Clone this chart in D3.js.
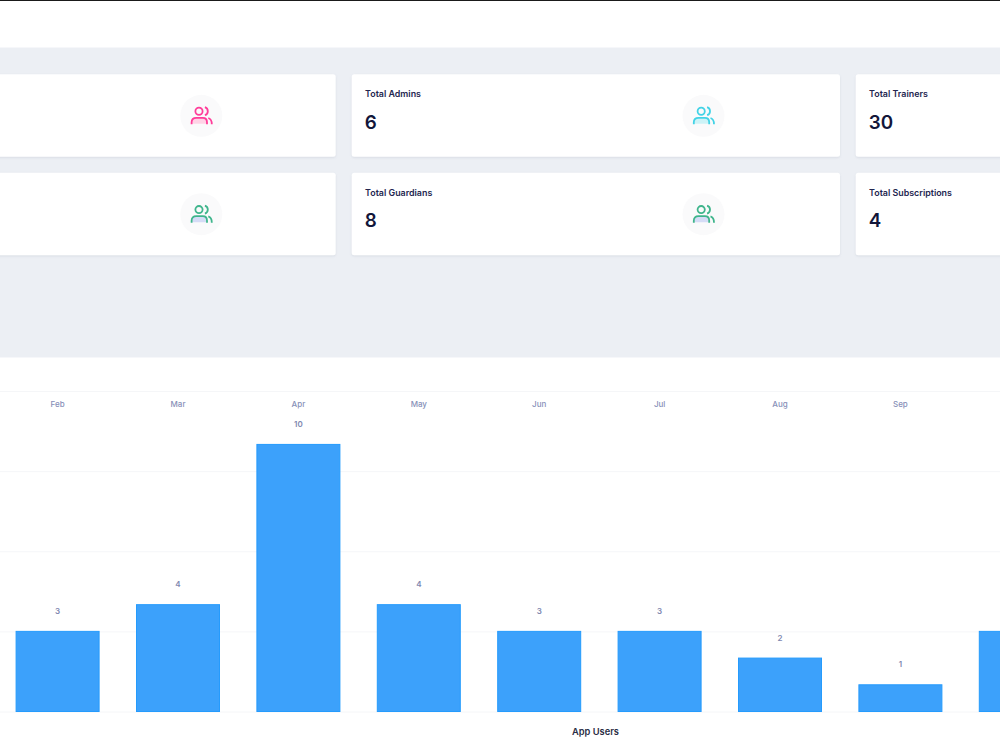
<!DOCTYPE html>
<html>
<head>
<meta charset="utf-8">
<title>Dashboard</title>
<script src="https://cdn.jsdelivr.net/npm/d3@7/dist/d3.min.js"></script>
<style>
  html, body { margin: 0; padding: 0; background: #eceff4; overflow: hidden; }
  svg { display: block; font-family: Inter, "Noto Sans", sans-serif; }
</style>
</head>
<body>
<svg id="page" width="1000" height="750"></svg>
<script>
// Monthly app users
const months = ["Feb", "Mar", "Apr", "May", "Jun", "Jul", "Aug", "Sep", "Oct"];
const users = [3, 4, 10, 4, 3, 3, 2, 1, 3];
const userTicks = [0, 3, 6, 9, 12];
const chartTitle = "App Users";

// Summary cards
const cardTitles = ["", "Total Admins", "Total Trainers", "", "Total Guardians", "Total Subscriptions"];
const cardValues = ["", "6", "30", "", "8", "4"];
const cardIconColors = ["#ff3d9a", "#43d3e6", null, "#3fb58c", "#3fb58c", null];
const cardIconFills = ["#ffd3e6", "#cdf3f7", null, "#d5dcf6", "#d5dcf6", null];

const panelWidth = 1000;
const svg = d3.select("#page");

// Page furniture
svg.append("rect").attr("x", 0).attr("y", 0).attr("width", panelWidth).attr("height", 47.5).attr("fill", "#fff");
svg.append("rect").attr("x", 0).attr("y", 0).attr("width", panelWidth).attr("height", 1).attr("fill", "#1a1a1a");
svg.append("rect").attr("x", 0).attr("y", 357.5).attr("width", panelWidth).attr("height", 392.5).attr("fill", "#fff");

// Card grid
const columnX = d3.scaleOrdinal().domain([0, 1, 2]).range([-160, 351.7, 855.7]);
const columnW = d3.scaleOrdinal().domain([0, 1, 2]).range([495.7, 488.3, 488]);
const rowY = d3.scaleOrdinal().domain([0, 1]).range([74.3, 172.7]);
const iconX = d3.scaleOrdinal().domain([0, 1, 2]).range([201.3, 703.5, 1207]);

const defs = svg.append("defs");
const shadow = defs.append("filter").attr("id", "cardShadow")
  .attr("x", "-5%").attr("y", "-10%").attr("width", "110%").attr("height", "125%");
shadow.append("feDropShadow").attr("dx", 0).attr("dy", 1).attr("stdDeviation", 1.2)
  .attr("flood-color", "#8d95a8").attr("flood-opacity", 0.22);

const cards = svg.selectAll("g.card")
  .data(cardTitles.map((title, i) => ({
    title, value: cardValues[i], col: i % 3, row: Math.floor(i / 3),
    stroke: cardIconColors[i], fill: cardIconFills[i]
  })))
  .join("g")
  .attr("class", "card")
  .attr("transform", d => `translate(${columnX(d.col)},${rowY(d.row)})`);

cards.append("rect")
  .attr("width", d => columnW(d.col)).attr("height", 82.5).attr("rx", 2.5)
  .attr("fill", "#fff").attr("filter", "url(#cardShadow)");

cards.filter(d => d.title).append("text")
  .attr("x", 13.4).attr("y", 23)
  .attr("font-size", 8.9).attr("font-weight", 600).attr("fill", "#23264f")
  .text(d => d.title);

cards.filter(d => d.value).append("text")
  .attr("x", 13).attr("y", 54.7)
  .attr("font-size", 18.8).attr("font-weight", 600).attr("fill", "#12163a")
  .text(d => d.value);

// People icon in a soft disc
const icons = cards.filter(d => d.stroke).append("g")
  .attr("transform", d => `translate(${iconX(d.col) - columnX(d.col)},41.5)`);
icons.append("circle").attr("r", 21).attr("fill", "#fafafb");
icons.append("path")
  .attr("d", "M-9.5,8 V6.5 Q-9.5,2 -5,2 H1.5 Q5.5,2 5.5,6.5 V8 Z")
  .attr("fill", d => d.fill);
icons.append("g")
  .attr("fill", "none").attr("stroke", d => d.stroke)
  .attr("stroke-width", 1.8).attr("stroke-linecap", "butt")
  .call(g => {
    g.append("circle").attr("cx", -2.3).attr("cy", -4.6).attr("r", 3.6);
    g.append("path").attr("d", "M3.6,-8.6 A4.2,4.2 0 0 1 3.6,-0.6");
    g.append("path").attr("d", "M-9.7,8.5 V6.5 Q-9.7,2 -5,2 H1.5 Q5.7,2 5.7,6.5 V8.5");
    g.append("path").attr("d", "M7,2.2 Q10.5,3.2 10.5,8.5");
  });

// Column chart: the band step is 120.4 px with bars 83 px wide
const step = 120.4;
const firstCentre = 57.6;
const x = d3.scaleBand()
  .domain(months)
  .range([firstCentre - step / 2, firstCentre - step / 2 + step * months.length])
  .paddingInner(1 - 83 / step)
  .paddingOuter((1 - 83 / step) / 2);
const y = d3.scaleLinear().domain([0, 12]).range([711.5, 391]);

const centre = m => x(m) + x.bandwidth() / 2;
const labelledMonths = months.filter(m => centre(m) < panelWidth);

// Gridlines run across the panel
svg.append("g")
  .call(d3.axisRight(y).tickValues(userTicks).tickSize(panelWidth).tickFormat(""))
  .call(g => g.select(".domain").remove())
  .call(g => g.selectAll(".tick line").attr("stroke", "#f5f6f8").attr("stroke-width", 1));

// Month labels sit along the top of the plot
svg.append("g")
  .attr("transform", "translate(0,401.3)")
  .call(d3.axisBottom(x).tickValues(labelledMonths).tickSize(0).tickPadding(0))
  .call(g => g.select(".domain").remove())
  .call(g => g.selectAll("text")
    .attr("font-family", "Inter, 'Noto Sans', sans-serif")
    .attr("font-size", 8).attr("font-weight", 500).attr("fill", "#8790b8"));

const points = months.map((m, i) => ({ m, v: users[i] }));

svg.append("g").selectAll("rect")
  .data(points)
  .join("rect")
  .attr("x", d => x(d.m))
  .attr("y", d => y(d.v))
  .attr("width", x.bandwidth())
  .attr("height", d => y(0) - y(d.v))
  .attr("fill", "#3ca1fb")
  .attr("stroke", "#259bfd")
  .attr("stroke-width", 1);

svg.append("g").selectAll("text")
  .data(points.filter(d => labelledMonths.includes(d.m)))
  .join("text")
  .attr("x", d => centre(d.m))
  .attr("y", d => y(d.v) - 17.5)
  .attr("text-anchor", "middle")
  .attr("font-size", 8).attr("font-weight", 600).attr("fill", "#7f88b0")
  .text(d => d.v);

svg.append("text")
  .attr("x", 595.5).attr("y", 735)
  .attr("text-anchor", "middle")
  .attr("font-size", 9.3).attr("font-weight", 600).attr("fill", "#2a2e45")
  .text(chartTitle);
</script>
</body>
</html>
